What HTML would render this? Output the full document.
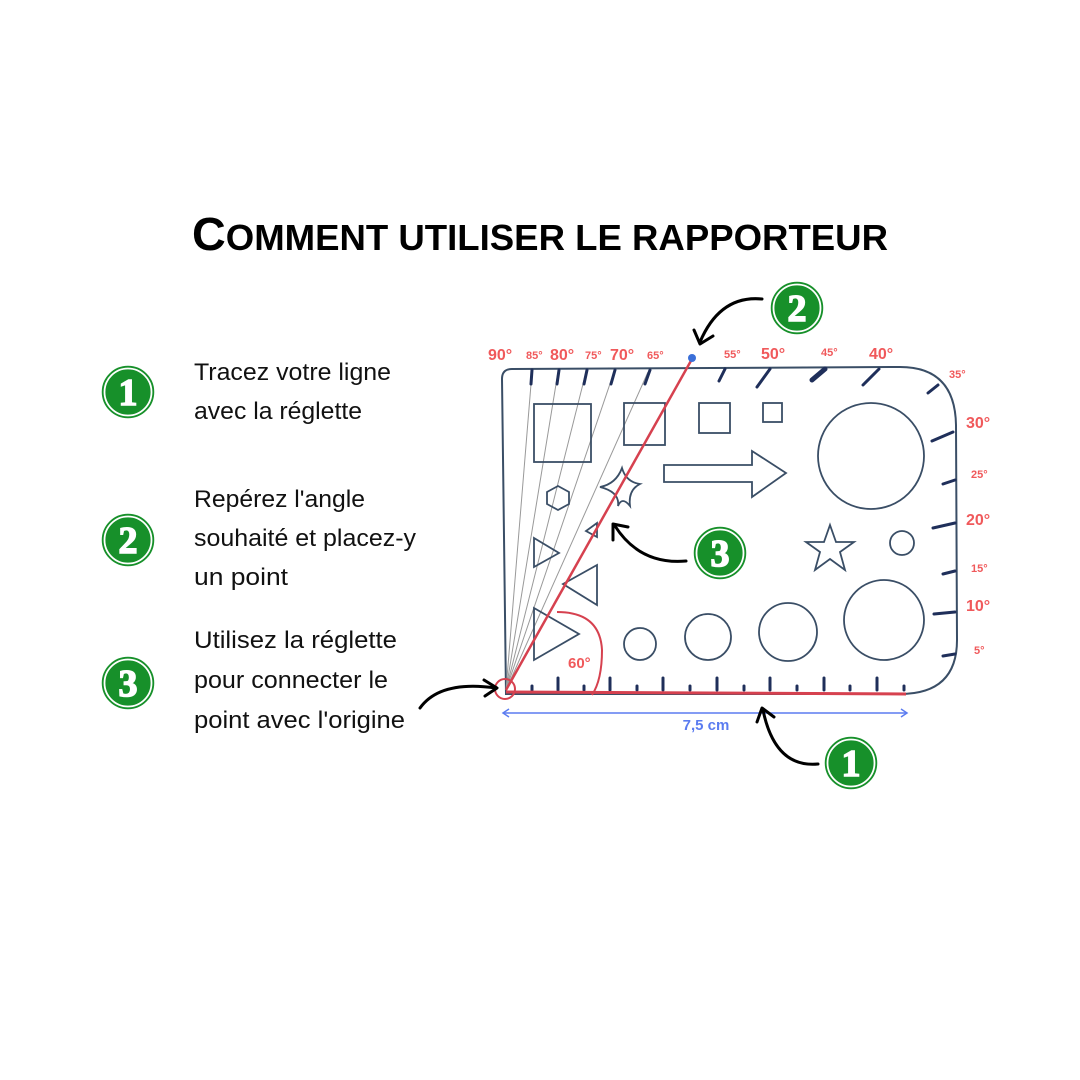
<!DOCTYPE html>
<html><head><meta charset="utf-8"><style>html,body{margin:0;padding:0;background:#fff}svg{display:block}</style></head>
<body>
<svg width="1080" height="1080" viewBox="0 0 1080 1080" xmlns="http://www.w3.org/2000/svg">
<rect width="1080" height="1080" fill="#fff"/>
<text x="192" y="250" font-family="Liberation Sans, sans-serif" font-weight="bold" font-size="46" textLength="696" lengthAdjust="spacingAndGlyphs" fill="#000">C<tspan font-size="36">OMMENT UTILISER LE RAPPORTEUR</tspan></text>

<g font-family="Liberation Sans, sans-serif" font-size="24" fill="#111">
<text x="194" y="380" textLength="197" lengthAdjust="spacingAndGlyphs">Tracez votre ligne</text>
<text x="194" y="419" textLength="168" lengthAdjust="spacingAndGlyphs">avec la réglette</text>
<text x="194" y="507" textLength="171" lengthAdjust="spacingAndGlyphs">Repérez l'angle</text>
<text x="194" y="546" textLength="222" lengthAdjust="spacingAndGlyphs">souhaité et placez-y</text>
<text x="194" y="585" textLength="94" lengthAdjust="spacingAndGlyphs">un point</text>
<text x="194" y="648" textLength="203" lengthAdjust="spacingAndGlyphs">Utilisez la réglette</text>
<text x="194" y="688" textLength="194" lengthAdjust="spacingAndGlyphs">pour connecter le</text>
<text x="194" y="728" textLength="211" lengthAdjust="spacingAndGlyphs">point avec l'origine</text>
</g>

<defs>
<g id="badge"><circle r="27" fill="#17902a"/><circle r="23.5" fill="none" stroke="#fff" stroke-width="1.8"/></g>
</defs>
<g font-family="Liberation Serif, serif" font-weight="bold" font-size="38" fill="#fff" text-anchor="middle" stroke="#fff" stroke-width="1.5">
<use href="#badge" x="128" y="392"/><text x="128" y="405">1</text>
<use href="#badge" x="128" y="540"/><text x="128" y="553">2</text>
<use href="#badge" x="128" y="683"/><text x="128" y="696">3</text>
<use href="#badge" x="797" y="308"/><text x="797" y="321">2</text>
<use href="#badge" x="720" y="553"/><text x="720" y="566">3</text>
<use href="#badge" x="851" y="763"/><text x="851" y="776">1</text>
</g>

<path d="M502 379 Q502 369 512 369 L900 367 Q955 367 956 425 L957 640 Q957 694 900 694 L506 694 Z" fill="none" stroke="#3a4e66" stroke-width="2"/>

<g stroke="#999" stroke-width="1">
<line x1="506" y1="690" x2="532" y2="372"/>
<line x1="506" y1="690" x2="558" y2="372"/>
<line x1="506" y1="690" x2="586" y2="372"/>
<line x1="506" y1="690" x2="614" y2="372"/>
<line x1="506" y1="690" x2="648" y2="372"/>
</g>

<g fill="none" stroke="#3a4e66" stroke-width="1.8">
<rect x="534" y="404" width="57" height="58"/>
<rect x="624" y="403" width="41" height="42"/>
<rect x="699" y="403" width="31" height="30"/>
<rect x="763" y="403" width="19" height="19"/>
<circle cx="871" cy="456" r="53"/>
<path d="M664 465 L752 465 L752 451 L786 473 L752 497 L752 482 L664 482 Z"/>
<polygon points="558,486 569,492 569,504 558,510 547,504 547,492"/>
<path d="M622 468 Q626 482 640 484 Q628 490 630 506 Q622 496 618 506 Q620 492 600 487 Q616 484 622 468 Z"/>
<polygon points="597,523 586,531 597,537"/>
<polygon points="534,538 559,553 534,567"/>
<polygon points="597,565 563,584 597,605"/>
<polygon points="534,608 579,634 534,660"/>
<polygon points="830,525 836,542 854,542 840,552 845,570 830,559 815,570 820,552 806,542 824,542"/>
<circle cx="902" cy="543" r="12"/>
<circle cx="640" cy="644" r="16"/>
<circle cx="708" cy="637" r="23"/>
<circle cx="788" cy="632" r="29"/>
<circle cx="884" cy="620" r="40"/>
</g>

<g stroke="#1f2f5a" stroke-width="3" stroke-linecap="round">
<line x1="532" y1="370" x2="531" y2="384"/>
<line x1="559" y1="370" x2="557" y2="384"/>
<line x1="587" y1="370" x2="584" y2="384"/>
<line x1="615" y1="370" x2="611" y2="384"/>
<line x1="650" y1="370" x2="645" y2="384"/>
<line x1="725" y1="369" x2="719" y2="381"/>
<line x1="770" y1="369" x2="757" y2="387"/>
<line x1="825" y1="369" x2="812" y2="380" stroke-width="5"/>
<line x1="879" y1="369" x2="863" y2="385"/>
<line x1="938" y1="385" x2="928" y2="393"/>
<line x1="953" y1="432" x2="932" y2="441"/>
<line x1="955" y1="480" x2="943" y2="484"/>
<line x1="955" y1="523" x2="933" y2="528"/>
<line x1="955" y1="571" x2="943" y2="574"/>
<line x1="955" y1="612" x2="934" y2="614"/>
<line x1="955" y1="654" x2="943" y2="656"/>
<line x1="532" y1="686" x2="532" y2="690"/>
<line x1="558" y1="678" x2="558" y2="690"/>
<line x1="584" y1="686" x2="584" y2="690"/>
<line x1="610" y1="678" x2="610" y2="690"/>
<line x1="637" y1="686" x2="637" y2="690"/>
<line x1="663" y1="678" x2="663" y2="690"/>
<line x1="690" y1="686" x2="690" y2="690"/>
<line x1="717" y1="678" x2="717" y2="690"/>
<line x1="744" y1="686" x2="744" y2="690"/>
<line x1="770" y1="678" x2="770" y2="690"/>
<line x1="797" y1="686" x2="797" y2="690"/>
<line x1="824" y1="678" x2="824" y2="690"/>
<line x1="850" y1="686" x2="850" y2="690"/>
<line x1="877" y1="678" x2="877" y2="690"/>
<line x1="904" y1="686" x2="904" y2="690"/>
</g>

<g stroke="#d6414f" fill="none" stroke-width="2.5">
<line x1="506" y1="692" x2="906" y2="694" stroke-width="3"/>
<line x1="506" y1="690" x2="692" y2="359"/>
<path d="M557 612 Q600 612 602 650 Q602 680 592 695" stroke-width="2"/>
<circle cx="505" cy="689" r="10" stroke-width="2"/>
</g>
<circle cx="692" cy="358" r="4" fill="#3a6fd8"/>

<g font-family="Liberation Sans, sans-serif" font-weight="bold" fill="#f0595b">
<text x="488" y="360" font-size="16">90°</text>
<text x="526" y="359" font-size="11">85°</text>
<text x="550" y="360" font-size="16">80°</text>
<text x="585" y="359" font-size="11">75°</text>
<text x="610" y="360" font-size="16">70°</text>
<text x="647" y="359" font-size="11">65°</text>
<text x="724" y="358" font-size="11">55°</text>
<text x="761" y="359" font-size="16">50°</text>
<text x="821" y="356" font-size="11">45°</text>
<text x="869" y="359" font-size="16">40°</text>
<text x="949" y="378" font-size="11">35°</text>
<text x="966" y="428" font-size="16">30°</text>
<text x="971" y="478" font-size="11">25°</text>
<text x="966" y="525" font-size="16">20°</text>
<text x="971" y="572" font-size="11">15°</text>
<text x="966" y="611" font-size="16">10°</text>
<text x="974" y="654" font-size="11">5°</text>
<text x="568" y="668" font-size="15">60°</text>
</g>

<g stroke="#5b7cf0" stroke-width="1.5" fill="none">
<line x1="503" y1="713" x2="907" y2="713"/>
<polyline points="509,709 503,713 509,717"/>
<polyline points="901,709 907,713 901,717"/>
</g>
<text x="706" y="730" text-anchor="middle" font-family="Liberation Sans, sans-serif" font-weight="bold" font-size="15" fill="#5b7cf0">7,5 cm</text>

<g stroke="#000" stroke-width="3" fill="none" stroke-linecap="round" stroke-linejoin="round">
<path d="M762 299 Q720 295 700 342"/><polyline points="694,330 700,344 713,336"/>
<path d="M686 561 Q640 565 615 526"/><polyline points="613,540 613,524 628,527"/>
<path d="M420 708 Q440 680 496 688"/><polyline points="484,680 497,688 485,696"/>
<path d="M818 764 Q775 768 763 710"/><polyline points="757,722 762,708 774,717"/>
</g>
</svg>
</body></html>
